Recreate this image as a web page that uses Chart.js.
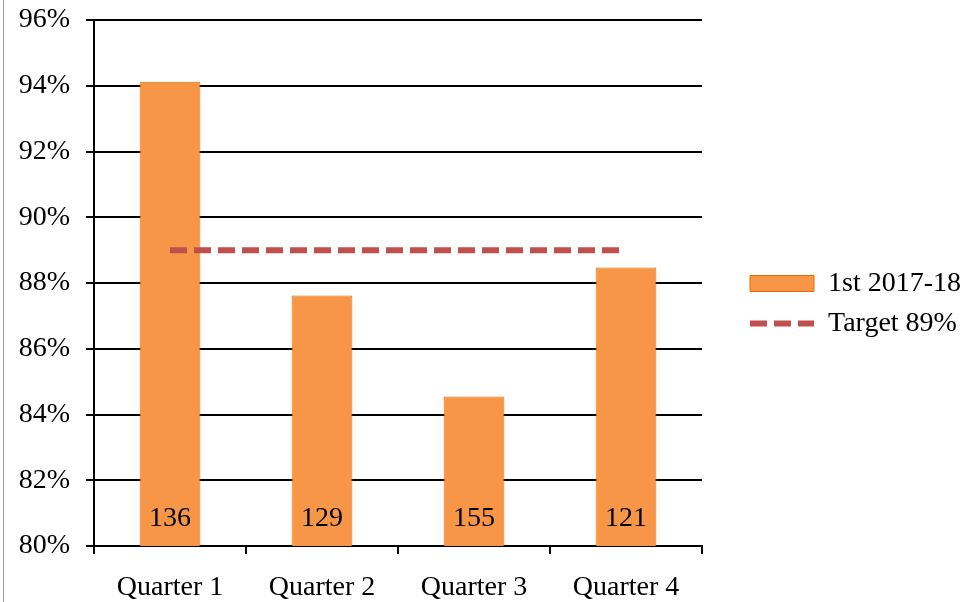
<!DOCTYPE html>
<html>
<head>
<meta charset="utf-8">
<script src="https://cdn.jsdelivr.net/npm/chart.js@4"></script>
<style>
  html, body { margin: 0; padding: 0; background: #fff; }
  #wrap { position: relative; width: 971px; height: 602px; }
  #frame { position: absolute; left: 3px; top: 0; width: 1px; height: 602px; background: #9a9a9a; }
</style>
</head>
<body>
<div id="wrap">
  <canvas id="chart" width="971" height="602"></canvas>
  <div id="frame"></div>
</div>
<script>
const quarters = ['Quarter 1', 'Quarter 2', 'Quarter 3', 'Quarter 4'];
const scores = [94.12, 87.62, 84.55, 88.47];
const counts = [136, 129, 155, 121];
const target = [89, 89, 89, 89];
const seriesName = '1st 2017-18';
const targetName = 'Target 89%';

const font = { family: '"Liberation Serif", serif', size: 28 };

// prints the count inside the foot of each bar
const countLabels = {
  id: 'countLabels',
  afterDatasetsDraw(chart) {
    const ctx = chart.ctx;
    const meta = chart.getDatasetMeta(0);
    const base = chart.scales.y.bottom;
    ctx.save();
    ctx.font = '28px "Liberation Serif", serif';
    ctx.fillStyle = '#000';
    ctx.textAlign = 'center';
    ctx.textBaseline = 'middle';
    meta.data.forEach((bar, i) => {
      ctx.fillText(String(counts[i]), bar.x, base - 27);
    });
    ctx.restore();
  }
};

new Chart(document.getElementById('chart'), {
  data: {
    labels: quarters,
    datasets: [
      {
        type: 'bar',
        label: seriesName,
        data: scores,
        backgroundColor: '#F79646',
        borderColor: '#E46C0A',
        borderWidth: 1,
        barPercentage: 0.4,
        categoryPercentage: 1,
        pointStyle: 'rect',
        order: 1
      },
      {
        type: 'line',
        label: targetName,
        data: target,
        borderColor: '#C0504D',
        backgroundColor: '#C0504D',
        borderWidth: 6,
        borderDash: [17, 7],
        pointRadius: 0,
        pointStyle: 'line',
        fill: false,
        order: 0
      }
    ]
  },
  options: {
    responsive: false,
    animation: false,
    layout: { padding: { top: 5, right: 0, bottom: 0, left: 0 } },
    plugins: {
      tooltip: { enabled: false },
      legend: {
        position: 'right',
        maxWidth: 300,
        labels: {
          font: font,
          color: '#000',
          usePointStyle: true,
          pointStyleWidth: 64,
          boxHeight: 16,
          padding: 12,
          sort: (a, b) => a.datasetIndex - b.datasetIndex,
          generateLabels(chart) {
            const items = Chart.defaults.plugins.legend.labels.generateLabels(chart);
            items.forEach(item => {
              const ds = chart.data.datasets[item.datasetIndex];
              if (ds.type === 'line') {
                item.lineDash = ds.borderDash;
                item.lineWidth = ds.borderWidth;
                item.strokeStyle = ds.borderColor;
              }
            });
            return items;
          }
        }
      }
    },
    scales: {
      x: {
        offset: true,
        grid: { offset: true, drawOnChartArea: false, drawTicks: true, tickLength: 8, color: '#000', lineWidth: 2 },
        border: { color: '#000', width: 2 },
        ticks: { font: font, color: '#000', padding: 17 },
        afterFit: s => { s.height = 56; }
      },
      y: {
        min: 80,
        max: 96,
        ticks: { stepSize: 2, font: font, color: '#000', padding: 16, callback: v => v + '%' },
        grid: { color: '#000', lineWidth: 2, tickLength: 8 },
        border: { color: '#000', width: 2 },
        afterFit: s => { s.width = 94; s.paddingTop = 20; s.paddingBottom = 0; }
      },
      y2: {
        position: 'right',
        grid: { display: false },
        border: { display: false },
        ticks: { display: false },
        afterFit: s => { s.width = 36; }
      }
    }
  },
  plugins: [countLabels]
});
</script>
</body>
</html>
